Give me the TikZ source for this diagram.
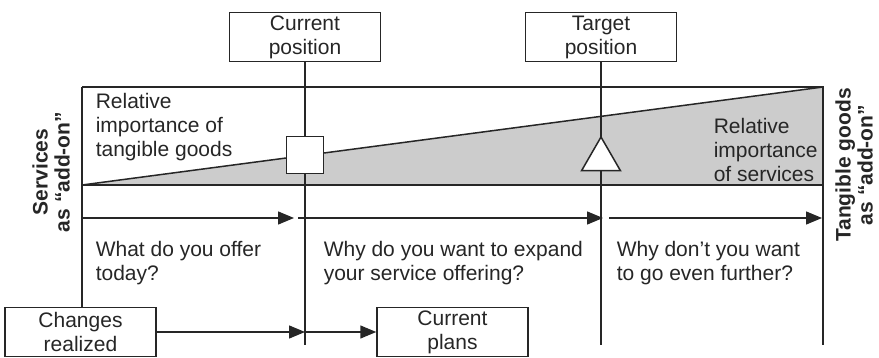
\documentclass[tikz,border=0pt]{standalone}
\usepackage{fontspec}
\setmainfont{Liberation Sans}
\usetikzlibrary{arrows.meta,shapes.geometric}
\begin{document}
\begin{tikzpicture}[x=1pt, y=-1pt, line width=1.5pt, draw=black!85,
  every node/.style={font=\fontsize{21}{24}\selectfont, text=black!85},
  posbox/.style={draw, align=center, inner sep=0pt, minimum width=151pt, minimum height=49pt},
  flow/.style={-{Triangle[length=16pt,width=13pt]}},
  note/.style={align=left, inner sep=0pt, anchor=north west},
  sidelabel/.style={rotate=90, align=center, inner sep=0pt, font=\fontsize{21}{22}\selectfont\bfseries}]
  \useasboundingbox (0,0) rectangle (879,358);

  % --- Frame corners ---
  \coordinate (tl) at (82,87);
  \coordinate (tr) at (823,87);
  \coordinate (ml) at (82,185);
  \coordinate (mr) at (823,185);
  \coordinate (rb) at (823,345);

  % --- Boxes ---
  \node[posbox] (cur)   at (305,37)    {Current\\position};
  \node[posbox] (tgt)   at (601,37)    {Target\\position};
  \node[posbox] (chg)   at (80.5,332)  {Changes\\realized};
  \node[posbox] (plans) at (452.5,332) {Current\\plans};

  \coordinate (curend) at (305,345);
  \coordinate (tgtend) at (601,345);

  % --- Gray wedge and frame ---
  \fill[black!20] (ml) -- (tr) -- (mr) -- cycle;
  \draw (ml) -- (tr);
  \draw (tl) -- (tr) -- (rb);
  \draw (ml) -- (mr);
  \draw (tl) -- (chg.north -| tl);
  \draw (cur.south) -- (curend);
  \draw (tgt.south) -- (tgtend);

  % --- Markers ---
  \node[draw, fill=white, minimum size=37pt, inner sep=0pt] (sq) at (305,155) {};
  \node[draw, fill=white, regular polygon, regular polygon sides=3,
        minimum size=45pt, inner sep=0pt] (tri) at (601,159.5) {};

  % --- Arrows (top row) ---
  \coordinate (a0) at (82,218);
  \coordinate (a1) at (294,218);
  \coordinate (a2) at (298,218);
  \coordinate (a3) at (603,218);
  \coordinate (a4) at (609,218);
  \coordinate (a5) at (822,218);
  \draw[flow] (a0) -- (a1);
  \draw[flow] (a2) -- (a3);
  \draw[flow] (a4) -- (a5);

  % --- Arrows (bottom row) ---
  \draw[flow] (chg.east) -- (chg.east -| curend);
  \draw[flow] (chg.east -| curend) -- (plans.west);

  % --- Texts ---
  \node[note] (goods) at (95,93)  {Relative\\importance of\\tangible goods};
  \node[note] (serv)  at (713,118) {Relative\\importance\\of services};
  \node[note] (q1) at (95,241)  {What do you offer\\today?};
  \node[note] (q2) at (323,241) {Why do you want to expand\\your service offering?};
  \node[note] (q3) at (616,241) {Why don’t you want\\to go even further?};

  \node[sidelabel] (svc) at (51,172)  {Services\\as “add-on”};
  \node[sidelabel] (tan) at (854,165) {Tangible goods\\as “add-on”};
\end{tikzpicture}
\end{document}
